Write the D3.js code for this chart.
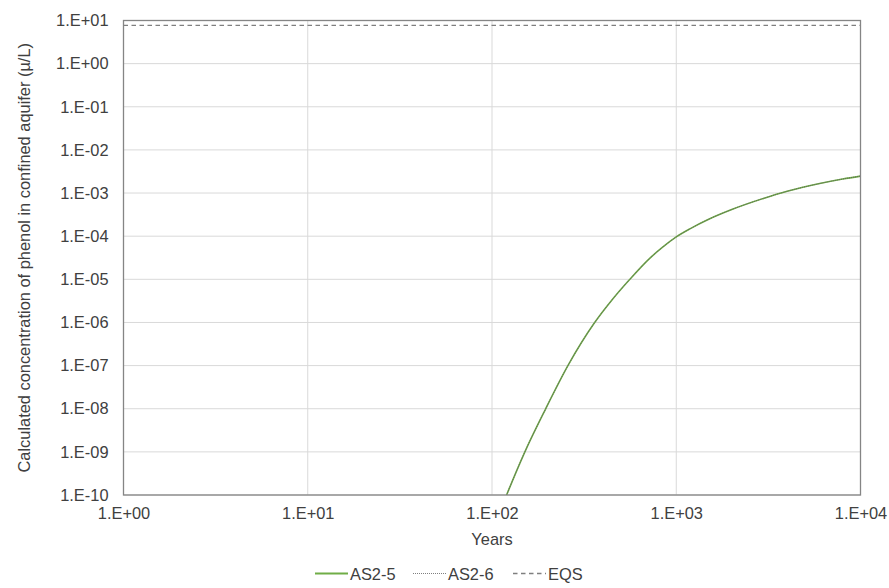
<!DOCTYPE html>
<html>
<head>
<meta charset="utf-8">
<script src="https://cdn.jsdelivr.net/npm/d3@7"></script>
<style>
  html, body { margin: 0; padding: 0; background: #fff; }
  svg { display: block; font-family: "Liberation Sans", Arial, sans-serif; }
</style>
</head>
<body>
<svg id="chart" width="889" height="588"></svg>
<script>
// Time after closure (years)
const years = [100, 120, 150, 195, 260, 360, 450, 560, 720, 850, 1000, 1200, 1500, 2000, 3000, 4000, 6000, 8000, 10000];
// Calculated phenol concentration, scenario AS2-5 (µg/L)
const as25 = [1.4e-11, 1.0e-10, 9.5e-10, 9.7e-9, 1.05e-7, 9.8e-7, 3.4e-6, 1.0e-5, 3.1e-5, 5.7e-5, 9.6e-5, 1.52e-4, 2.47e-4, 4.15e-4, 7.6e-4, 1.1e-3, 1.66e-3, 2.11e-3, 2.47e-3];
// Scenario AS2-6 coincides with AS2-5
const as26 = [1.4e-11, 1.0e-10, 9.5e-10, 9.7e-9, 1.05e-7, 9.8e-7, 3.4e-6, 1.0e-5, 3.1e-5, 5.7e-5, 9.6e-5, 1.52e-4, 2.47e-4, 4.15e-4, 7.6e-4, 1.1e-3, 1.66e-3, 2.11e-3, 2.47e-3];
// Environmental quality standard
const eqsValue = 7.7;
const xTicks = [1, 10, 100, 1000, 10000];
const yTicks = [1e1, 1e0, 1e-1, 1e-2, 1e-3, 1e-4, 1e-5, 1e-6, 1e-7, 1e-8, 1e-9, 1e-10];
const seriesNames = ["AS2-5", "AS2-6", "EQS"];

const svg = d3.select("#chart");
const m = { left: 123.5, right: 860.5, top: 20.5, bottom: 495 };
const fs = 16.4;
const textColor = "#404040";

const x = d3.scaleLog().domain([1, 10000]).range([m.left, m.right]);
const y = d3.scaleLog().domain([1e-10, 1e1]).range([m.bottom, m.top]);

// Excel-style scientific labels, e.g. 1.E-03
const sci = v => {
  const e = Math.round(Math.log10(v));
  const s = e < 0 ? "-" : "+";
  return "1.E" + s + String(Math.abs(e)).padStart(2, "0");
};

const grid = svg.append("g");
grid.selectAll("line.h").data(yTicks).join("line")
  .attr("x1", m.left).attr("x2", m.right)
  .attr("y1", d => y(d)).attr("y2", d => y(d))
  .attr("stroke", "#d9d9d9").attr("stroke-width", 1);
grid.selectAll("line.v").data(xTicks).join("line")
  .attr("y1", m.top).attr("y2", m.bottom)
  .attr("x1", d => x(d)).attr("x2", d => x(d))
  .attr("stroke", "#d9d9d9").attr("stroke-width", 1);

// Axes (labels only, Excel style)
const yAxis = svg.append("g").attr("transform", `translate(${m.left},0)`)
  .call(d3.axisLeft(y).tickValues(yTicks).tickFormat(sci).tickSize(0).tickPadding(15));
const xAxis = svg.append("g").attr("transform", `translate(0,${m.bottom})`)
  .call(d3.axisBottom(x).tickValues(xTicks).tickFormat(sci).tickSize(0).tickPadding(12));
[yAxis, xAxis].forEach(a => {
  a.select(".domain").remove();
  a.selectAll("text").attr("font-size", fs).attr("fill", textColor)
    .attr("font-family", "'Liberation Sans', Arial, sans-serif");
});

svg.append("defs").append("clipPath").attr("id", "plotClip")
  .append("rect").attr("x", m.left).attr("y", m.top)
  .attr("width", m.right - m.left).attr("height", m.bottom - m.top);

const plot = svg.append("g").attr("clip-path", "url(#plotClip)");
const line = d3.line().x((d, i) => x(years[i])).y(d => y(d)).curve(d3.curveMonotoneX);

plot.append("path").attr("d", line(as25))
  .attr("fill", "none").attr("stroke", "#70AD47").attr("stroke-width", 1.6);
plot.append("path").attr("d", line(as26))
  .attr("fill", "none").attr("stroke", "#5f5f5f").attr("stroke-width", 0.9)
  .attr("stroke-dasharray", "1,1");
plot.append("line")
  .attr("x1", m.left).attr("x2", m.right)
  .attr("y1", y(eqsValue)).attr("y2", y(eqsValue))
  .attr("stroke", "#7f7f7f").attr("stroke-width", 1.4).attr("stroke-dasharray", "4.5,3.5");

// Plot frame
svg.append("rect").attr("x", m.left).attr("y", m.top)
  .attr("width", m.right - m.left).attr("height", m.bottom - m.top)
  .attr("fill", "none").attr("stroke", "#858585").attr("stroke-width", 1.3);

// Axis titles
svg.append("text").attr("x", (m.left + m.right) / 2).attr("y", 545)
  .attr("text-anchor", "middle").attr("font-size", fs).attr("fill", textColor).text("Years");
svg.append("text")
  .attr("transform", `translate(29.5,${(m.top + m.bottom) / 2}) rotate(-90)`)
  .attr("text-anchor", "middle").attr("font-size", fs).attr("fill", textColor)
  .text("Calculated concentration of phenol in confined aquifer (µ/L)");

// Legend
const legend = svg.append("g").attr("transform", "translate(0,573.5)");
const items = [
  { name: seriesNames[0], x0: 315, stroke: "#70AD47", dash: null, w: 1.8 },
  { name: seriesNames[1], x0: 413, stroke: "#7f7f7f", dash: "1,1", w: 1 },
  { name: seriesNames[2], x0: 513, stroke: "#7f7f7f", dash: "4.5,3.5", w: 1.4 }
];
items.forEach(it => {
  legend.append("line").attr("x1", it.x0).attr("x2", it.x0 + 33).attr("y1", 0).attr("y2", 0)
    .attr("stroke", it.stroke).attr("stroke-width", it.w).attr("stroke-dasharray", it.dash);
  legend.append("text").attr("x", it.x0 + 35).attr("y", 6).attr("font-size", fs)
    .attr("fill", textColor).text(it.name);
});
</script>
</body>
</html>
